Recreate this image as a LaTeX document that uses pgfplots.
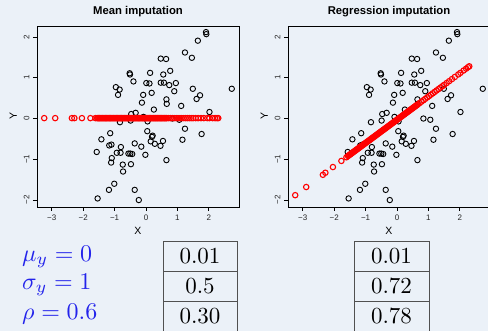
\documentclass[border=0pt]{standalone}
\usepackage{fontspec}
\usepackage{graphicx}
\usepackage{pgfplots}
\usepackage{pgfplotstable}
\pgfplotsset{compat=1.18}
\newfontfamily\rsans{Liberation Sans}
\definecolor{bg}{RGB}{235,241,248}
\definecolor{mblue}{RGB}{35,35,235}
\definecolor{tborder}{RGB}{80,80,80}

\pgfplotstableread{
x y
1.91 2.12
1.92 2.07
1.65 1.91
1.24 1.62
1.46 1.49
0.47 1.47
0.64 1.46
-0.52 1.11
-0.51 1.08
0.13 1.12
0.77 1.17
0.55 1.08
-0.40 0.91
0.01 0.87
0.11 0.86
0.47 0.88
0.57 0.88
0.74 0.82
0.95 0.87
-0.96 0.77
-0.84 0.71
-0.89 0.58
0.18 0.63
0.90 0.67
1.49 0.73
2.73 0.73
-0.09 0.58
1.72 0.57
1.61 0.48
0.65 0.47
0.66 0.36
-0.13 0.39
1.12 0.31
0.25 0.22
2.02 0.16
-0.33 0.14
-0.47 0.11
-0.08 0.04
-0.83 -0.09
-0.49 -0.05
0.05 -0.07
0.84 0.00
1.06 -0.03
-1.14 -0.36
-1.42 -0.51
-1.17 -0.66
-1.10 -0.64
-1.57 -0.82
-0.80 -0.70
-0.93 -0.84
-0.81 -0.84
-0.56 -0.86
-0.50 -0.86
-0.44 -0.87
-1.09 -0.97
-1.11 -1.08
-0.36 -0.61
-0.15 -0.69
-0.02 -0.89
0.04 -0.31
0.21 -0.42
0.19 -0.45
0.15 -0.56
0.28 -0.62
0.54 -0.55
0.46 -0.67
0.65 -1.02
1.24 -0.25
1.16 -0.52
1.77 -0.38
-0.74 -1.13
-0.48 -1.12
-0.73 -1.30
-1.01 -1.60
-1.18 -1.75
-0.36 -1.75
-1.54 -1.96
-0.23 -2.00
}\obs

\pgfplotstableread{
x ym yr
-3.24 0.01 -1.88
-2.89 0.01 -1.68
-2.36 0.01 -1.38
-2.28 0.01 -1.33
-2.04 0.01 -1.19
-1.77 0.01 -1.04
-1.61 0.01 -0.95
-1.560 0.01 -0.919
-1.535 0.01 -0.905
-1.510 0.01 -0.891
-1.485 0.01 -0.876
-1.460 0.01 -0.862
-1.435 0.01 -0.848
-1.410 0.01 -0.834
-1.385 0.01 -0.819
-1.360 0.01 -0.805
-1.335 0.01 -0.791
-1.310 0.01 -0.777
-1.285 0.01 -0.762
-1.260 0.01 -0.748
-1.235 0.01 -0.734
-1.210 0.01 -0.720
-1.185 0.01 -0.705
-1.160 0.01 -0.691
-1.135 0.01 -0.677
-1.110 0.01 -0.663
-1.085 0.01 -0.648
-1.060 0.01 -0.634
-1.035 0.01 -0.620
-1.010 0.01 -0.606
-0.985 0.01 -0.591
-0.960 0.01 -0.577
-0.935 0.01 -0.563
-0.910 0.01 -0.549
-0.885 0.01 -0.534
-0.860 0.01 -0.520
-0.835 0.01 -0.506
-0.810 0.01 -0.492
-0.785 0.01 -0.477
-0.760 0.01 -0.463
-0.735 0.01 -0.449
-0.710 0.01 -0.435
-0.685 0.01 -0.420
-0.660 0.01 -0.406
-0.635 0.01 -0.392
-0.610 0.01 -0.378
-0.585 0.01 -0.363
-0.560 0.01 -0.349
-0.535 0.01 -0.335
-0.510 0.01 -0.321
-0.485 0.01 -0.306
-0.460 0.01 -0.292
-0.435 0.01 -0.278
-0.410 0.01 -0.264
-0.385 0.01 -0.249
-0.360 0.01 -0.235
-0.335 0.01 -0.221
-0.310 0.01 -0.207
-0.285 0.01 -0.192
-0.260 0.01 -0.178
-0.235 0.01 -0.164
-0.210 0.01 -0.150
-0.185 0.01 -0.135
-0.160 0.01 -0.121
-0.135 0.01 -0.107
-0.110 0.01 -0.093
-0.085 0.01 -0.078
-0.060 0.01 -0.064
-0.035 0.01 -0.050
-0.010 0.01 -0.036
0.015 0.01 -0.021
0.040 0.01 -0.007
0.065 0.01 0.007
0.090 0.01 0.021
0.115 0.01 0.036
0.140 0.01 0.050
0.165 0.01 0.064
0.190 0.01 0.078
0.215 0.01 0.093
0.240 0.01 0.107
0.265 0.01 0.121
0.290 0.01 0.135
0.315 0.01 0.150
0.340 0.01 0.164
0.365 0.01 0.178
0.390 0.01 0.192
0.415 0.01 0.207
0.440 0.01 0.221
0.465 0.01 0.235
0.490 0.01 0.249
0.515 0.01 0.264
0.540 0.01 0.278
0.565 0.01 0.292
0.590 0.01 0.306
0.615 0.01 0.321
0.640 0.01 0.335
0.665 0.01 0.349
0.72 0.01 0.380
0.78 0.01 0.415
0.84 0.01 0.449
0.90 0.01 0.483
0.96 0.01 0.517
1.02 0.01 0.551
1.08 0.01 0.586
1.14 0.01 0.620
1.20 0.01 0.654
1.26 0.01 0.688
1.32 0.01 0.722
1.38 0.01 0.757
1.44 0.01 0.791
1.50 0.01 0.825
1.58 0.01 0.871
1.66 0.01 0.916
1.75 0.01 0.968
1.84 0.01 1.019
1.95 0.01 1.082
2.02 0.01 1.121
2.12 0.01 1.178
2.20 0.01 1.224
2.26 0.01 1.258
2.30 0.01 1.281
}\imp

\pgfplotsset{rplot/.style={
  scale only axis, width=202pt, height=181pt, anchor=south west,
  xmin=-3.47, xmax=2.96, ymin=-2.17, ymax=2.27,
  xtick={-3,-2,-1,0,1,2}, ytick={-2,-1,0,1,2},
  xticklabels={−3,−2,−1,0,1,2}, yticklabels={−2,−1,0,1,2},
  tick align=outside, tick pos=left,
  major tick length=4pt,
  axis line style={line width=0.8pt},
  every tick/.style={line width=0.8pt, black},
  ticklabel style={font=\rsans\fontsize{8}{8}\selectfont, text=black!85},
  yticklabel style={rotate=90, anchor=south},
  xlabel={X}, ylabel={Y},
  label style={font=\rsans\fontsize{10.5}{10.5}\selectfont},
  axis background/.style={fill=bg},
  obsstyle/.style={only marks, mark=o, mark size=2.7pt, mark options={line width=0.9pt, black}},
  impstyle/.style={only marks, mark=o, mark size=2.7pt, mark options={line width=1.1pt, red}},
}}

\begin{document}
\begin{tikzpicture}[x=1pt,y=1pt]
\path[use as bounding box] (0pt,0pt) rectangle (488pt,331pt);
\clip (0pt,0pt) rectangle (488pt,331pt);
\fill[bg] (0pt,0pt) rectangle (488pt,331pt);

\begin{axis}[rplot, at={(37pt,124pt)}]
\addplot[obsstyle] table[x=x,y=y] {\obs};
\addplot[impstyle] table[x=x,y=ym] {\imp};
\end{axis}

\begin{axis}[rplot, at={(288pt,124pt)}]
\addplot[obsstyle] table[x=x,y=y] {\obs};
\addplot[impstyle] table[x=x,y=yr] {\imp};
\end{axis}

\node[font=\rsans\bfseries\fontsize{11.3}{12}\selectfont] at (138pt,319pt) {Mean imputation};
\node[font=\rsans\bfseries\fontsize{11.3}{12}\selectfont] at (389pt,319pt) {Regression imputation};

\node[text=mblue, anchor=west, inner sep=0pt] at (22pt,74pt) {\scalebox{2.4}{$\mu_y = 0$}};
\node[text=mblue, anchor=west, inner sep=0pt] at (22pt,46pt) {\scalebox{2.4}{$\sigma_y = 1$}};
\node[text=mblue, anchor=west, inner sep=0pt] at (22pt,17pt) {\scalebox{2.4}{$\rho = 0.6$}};

\foreach \xl/\xr/\a/\b/\c in {163/237/0.01/0.5/0.30, 354/429/0.01/0.72/0.78}{
  \draw[tborder, line width=0.9pt] (\xl pt,90pt) rectangle (\xr pt,60pt);
  \draw[tborder, line width=0.9pt] (\xl pt,60pt) rectangle (\xr pt,30pt);
  \draw[tborder, line width=0.9pt] (\xl pt,30pt) rectangle (\xr pt,-5pt);
  \pgfmathsetmacro\xm{(\xl+\xr)/2}
  \node at (\xm pt,75pt) {\scalebox{2.3}{$\a$}};
  \node at (\xm pt,45pt) {\scalebox{2.3}{$\b$}};
  \node at (\xm pt,15pt) {\scalebox{2.3}{$\c$}};
}
\end{tikzpicture}
\end{document}
